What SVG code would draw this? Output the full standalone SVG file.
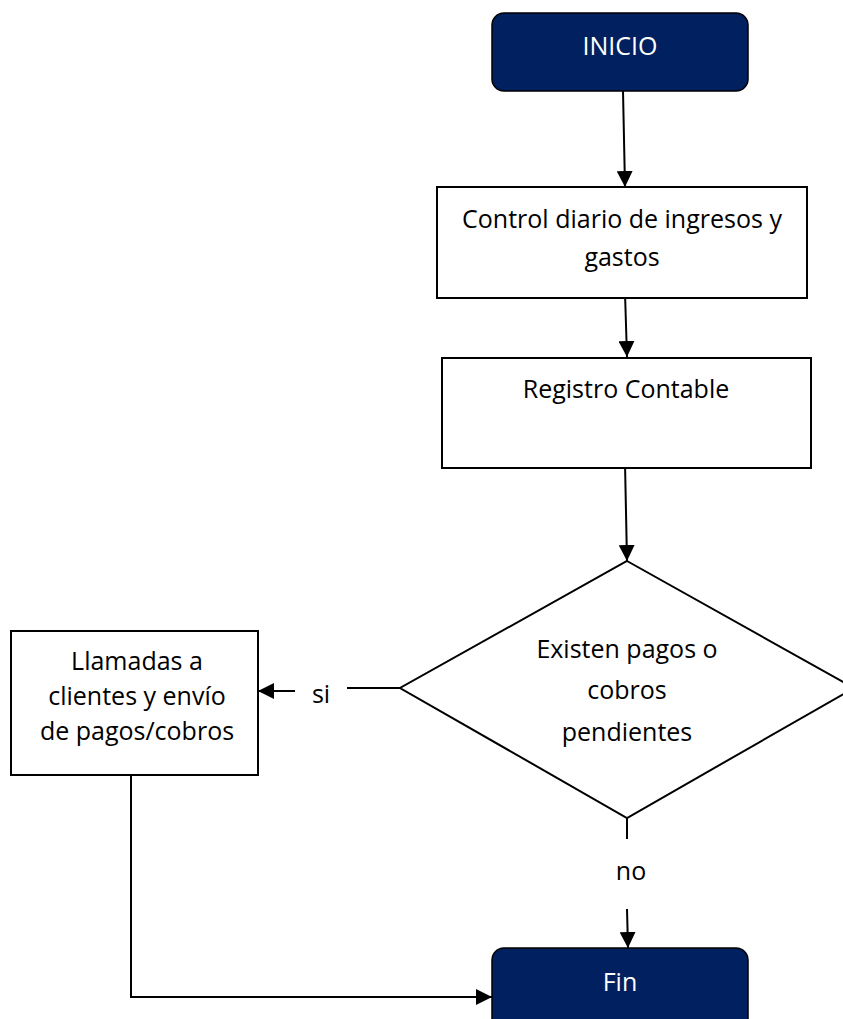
<svg xmlns="http://www.w3.org/2000/svg" width="843" height="1019" viewBox="0 0 843 1019">
  <style>
    .box { fill: #ffffff; stroke: #000000; stroke-width: 2; }
    .term { fill: #002060; stroke: #000000; stroke-width: 1.5; }
    .txt { font-family: "Open Sans", "Liberation Sans", sans-serif; font-size: 25px; fill: #000000; text-anchor: middle; }
    .wtxt { font-family: "Open Sans", "Liberation Sans", sans-serif; font-size: 25px; fill: #ffffff; text-anchor: middle; }
    .line { fill: none; stroke: #000000; stroke-width: 2; }
  </style>
  <defs>
    <marker id="arrow" markerUnits="userSpaceOnUse" markerWidth="17" markerHeight="16" refX="16" refY="8" orient="auto">
      <path d="M0,0 L16,8 L0,16 Z" fill="#000000"/>
    </marker>
  </defs>

  <rect width="843" height="1019" fill="#ffffff"/>

  <g id="connectors">
    <line class="line" x1="623" y1="91" x2="625" y2="187" marker-end="url(#arrow)"/>
    <line class="line" x1="625" y1="293" x2="627" y2="357" marker-end="url(#arrow)"/>
    <line class="line" x1="625" y1="463" x2="627" y2="561" marker-end="url(#arrow)"/>
    <line class="line" x1="347" y1="688" x2="400" y2="688"/>
    <line class="line" x1="295" y1="691" x2="258" y2="691" marker-end="url(#arrow)"/>
    <line class="line" x1="627" y1="818" x2="627" y2="839"/>
    <line class="line" x1="627" y1="909" x2="628" y2="948" marker-end="url(#arrow)"/>
    <polyline class="line" points="103,775 131,775 131,997 492,997" marker-end="url(#arrow)"/>
  </g>

  <g id="inicio">
    <rect class="term" x="492" y="13" width="256" height="78" rx="12" ry="12"/>
    <text class="wtxt" x="620" y="55">INICIO</text>
  </g>

  <g id="control">
    <rect class="box" x="437" y="187" width="370" height="111"/>
    <text class="txt" x="622" y="228">Control diario de ingresos y</text>
    <text class="txt" x="622" y="266">gastos</text>
  </g>

  <g id="registro">
    <rect class="box" x="442" y="358" width="369" height="110"/>
    <text class="txt" x="626" y="398">Registro Contable</text>
  </g>

  <g id="decision">
    <polygon class="box" points="627,561 854,688 627,818 400,688"/>
    <text class="txt" x="627" y="658">Existen pagos o</text>
    <text class="txt" x="627" y="699">cobros</text>
    <text class="txt" x="627" y="741">pendientes</text>
  </g>

  <g id="llamadas">
    <rect class="box" x="11" y="631" width="247" height="144"/>
    <text class="txt" x="137" y="670">Llamadas a</text>
    <text class="txt" x="137" y="705">clientes y envío</text>
    <text class="txt" x="137" y="740">de pagos/cobros</text>
  </g>

  <g id="label-si">
    <text class="txt" x="321" y="703">si</text>
  </g>

  <g id="label-no">
    <text class="txt" x="631" y="880">no</text>
  </g>

  <g id="fin">
    <rect class="term" x="492" y="948" width="256" height="90" rx="12" ry="12"/>
    <text class="wtxt" x="620" y="991">Fin</text>
  </g>
</svg>
